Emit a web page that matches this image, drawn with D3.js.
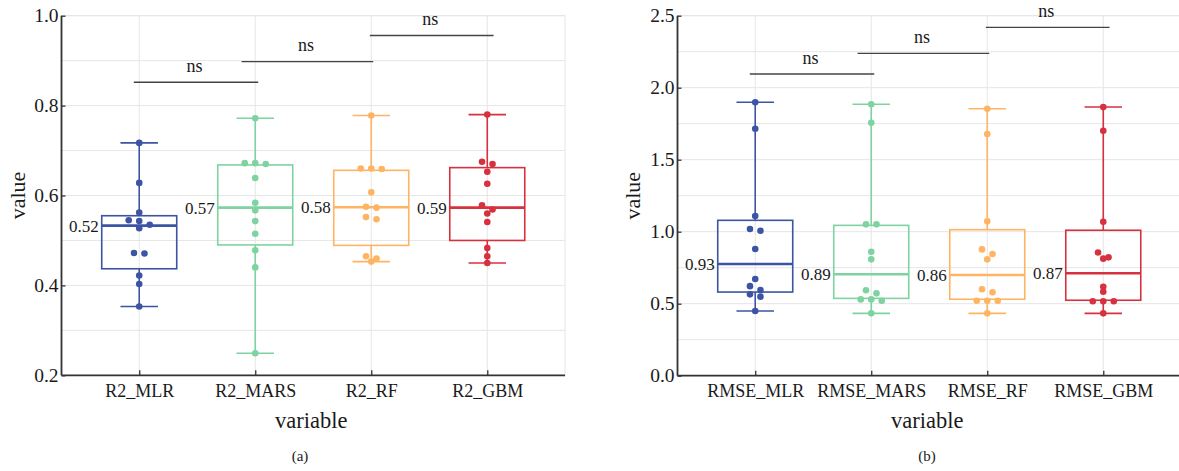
<!DOCTYPE html>
<html><head><meta charset="utf-8">
<script src="https://cdn.jsdelivr.net/npm/d3@7"></script>
<style>body{margin:0;background:#fff;}</style>
</head><body><svg id="c" width="1179" height="471"></svg>
<script>
// ---------- DATA ----------
const r2Categories = ["R2_MLR", "R2_MARS", "R2_RF", "R2_GBM"];
const rmseCategories = ["RMSE_MLR", "RMSE_MARS", "RMSE_RF", "RMSE_GBM"];

const r2MLR  = [0.717, 0.628, 0.562, 0.545, 0.543, 0.535, 0.527, 0.472, 0.471, 0.422, 0.403, 0.353];
const r2MARS = [0.772, 0.672, 0.672, 0.670, 0.639, 0.584, 0.567, 0.543, 0.515, 0.478, 0.440, 0.249];
const r2RF   = [0.778, 0.660, 0.660, 0.659, 0.607, 0.575, 0.573, 0.552, 0.547, 0.465, 0.460, 0.453];
const r2GBM  = [0.780, 0.675, 0.670, 0.653, 0.626, 0.578, 0.569, 0.560, 0.541, 0.483, 0.465, 0.450];

const rmseMLR  = [1.899, 1.715, 1.109, 1.019, 1.007, 0.880, 0.672, 0.622, 0.595, 0.565, 0.549, 0.449];
const rmseMARS = [1.885, 1.757, 1.051, 1.051, 0.861, 0.808, 0.593, 0.572, 0.530, 0.530, 0.521, 0.433];
const rmseRF   = [1.854, 1.678, 1.072, 0.877, 0.845, 0.808, 0.600, 0.579, 0.521, 0.521, 0.521, 0.433];
const rmseGBM  = [1.866, 1.701, 1.069, 0.856, 0.822, 0.813, 0.618, 0.583, 0.517, 0.517, 0.517, 0.433];

// box statistics
const r2Q1      = [0.437, 0.490, 0.489, 0.500];
const r2Median  = [0.533, 0.573, 0.574, 0.573];
const r2Q3      = [0.555, 0.668, 0.656, 0.662];
const r2Low     = [0.353, 0.249, 0.453, 0.450];
const r2High    = [0.717, 0.772, 0.778, 0.780];
const r2Means   = [0.52, 0.57, 0.58, 0.59];

const rmseQ1     = [0.581, 0.537, 0.531, 0.524];
const rmseMedian = [0.776, 0.704, 0.699, 0.711];
const rmseQ3     = [1.079, 1.044, 1.014, 1.010];
const rmseLow    = [0.449, 0.433, 0.433, 0.433];
const rmseHigh   = [1.899, 1.885, 1.854, 1.866];
const rmseMeans  = [0.93, 0.89, 0.86, 0.87];

// significance comparisons
const comparePairs = [[0, 1], [1, 2], [2, 3]];
const compareLabels = ["ns", "ns", "ns"];
const r2BracketY   = [0.852, 0.898, 0.956];
const rmseBracketY = [2.095, 2.239, 2.419];

// axis ticks
const r2Ticks = [0.2, 0.4, 0.6, 0.8, 1.0];
const r2Grid = [0.3, 0.4, 0.5, 0.6, 0.7, 0.8, 0.9, 1.0];
const rmseTicks = [0.0, 0.5, 1.0, 1.5, 2.0, 2.5];
const rmseGrid = [0.25, 0.5, 0.75, 1.0, 1.25, 1.5, 1.75, 2.0, 2.25, 2.5];

// ---------- STYLE ----------
const FONT = "Liberation Serif";
const colors = ["#3d54a5", "#7ed3a1", "#ffb463", "#d7313f"];
const bracketNudge = [[-5.4, 3], [-13.7, 2], [-1.4, 6.3]];

const svg = d3.select("#c").attr("font-family", FONT);

function drawPanel(cfg) {
  const g = svg.append("g").attr("font-family", FONT);
  const y = d3.scaleLinear().domain(cfg.domain).range([cfg.bottom, cfg.top]);
  const x = d3.scalePoint().domain(cfg.cats).range([cfg.left, cfg.right]).padding(0.67);
  const boxW = 75, capW = 37.5;

  g.append("rect").attr("x", cfg.left).attr("y", cfg.top)
    .attr("width", cfg.right - cfg.left).attr("height", cfg.bottom - cfg.top)
    .attr("fill", "none").attr("stroke", "#e6e6e6").attr("stroke-width", 1);

  g.append("g").selectAll("line").data(cfg.grid).join("line")
    .attr("x1", cfg.left).attr("x2", cfg.right)
    .attr("y1", d => y(d)).attr("y2", d => y(d))
    .attr("stroke", "#e6e6e6").attr("stroke-width", 1);
  g.append("g").selectAll("line").data(cfg.cats).join("line")
    .attr("x1", d => x(d)).attr("x2", d => x(d))
    .attr("y1", cfg.top).attr("y2", cfg.bottom)
    .attr("stroke", "#e6e6e6").attr("stroke-width", 1);

  const yAxis = d3.axisLeft(y).tickValues(cfg.ticks).tickFormat(d3.format(".1f")).tickSize(-4).tickPadding(6);
  const ya = g.append("g").attr("transform", `translate(${cfg.left},0)`).call(yAxis);
  const xAxis = d3.axisBottom(x).tickSize(-5).tickPadding(9);
  const xa = g.append("g").attr("transform", `translate(0,${cfg.bottom})`).call(xAxis);
  [ya, xa].forEach(a => {
    a.attr("font-family", FONT);
    a.select(".domain").attr("stroke", "#333").attr("stroke-width", 1.8);
    a.selectAll(".tick line").attr("stroke", "#333").attr("stroke-width", 1.3);
    a.selectAll(".tick text").attr("fill", "#1a1a1a").attr("font-family", FONT);
  });
  ya.select(".domain").attr("d", `M0,${cfg.bottom}V${cfg.top}`);
  xa.select(".domain").attr("d", `M${cfg.left},0H${cfg.right}`);
  ya.selectAll(".tick text").attr("font-size", 19.5).attr("x", -3);
  xa.selectAll(".tick text").attr("font-size", 18).attr("dy", "0.71em");

  cfg.cats.forEach((c, i) => {
    const cx = x(c), col = colors[i];
    const bg = g.append("g");
    bg.append("line").attr("x1", cx).attr("x2", cx).attr("y1", y(cfg.q3[i])).attr("y2", y(cfg.high[i]))
      .attr("stroke", col).attr("stroke-width", 1.6);
    bg.append("line").attr("x1", cx).attr("x2", cx).attr("y1", y(cfg.q1[i])).attr("y2", y(cfg.low[i]))
      .attr("stroke", col).attr("stroke-width", 1.6);
    bg.append("line").attr("x1", cx - capW / 2).attr("x2", cx + capW / 2).attr("y1", y(cfg.high[i])).attr("y2", y(cfg.high[i]))
      .attr("stroke", col).attr("stroke-width", 1.6);
    bg.append("line").attr("x1", cx - capW / 2).attr("x2", cx + capW / 2).attr("y1", y(cfg.low[i])).attr("y2", y(cfg.low[i]))
      .attr("stroke", col).attr("stroke-width", 1.6);
    bg.append("rect").attr("x", cx - boxW / 2).attr("width", boxW)
      .attr("y", y(cfg.q3[i])).attr("height", y(cfg.q1[i]) - y(cfg.q3[i]))
      .attr("fill", "none").attr("stroke", col).attr("stroke-width", 1.6);
    bg.append("line").attr("x1", cx - boxW / 2).attr("x2", cx + boxW / 2)
      .attr("y1", y(cfg.median[i])).attr("y2", y(cfg.median[i]))
      .attr("stroke", col).attr("stroke-width", 2.6);
    g.append("text").attr("x", cx - boxW / 2 - 3).attr("y", y(cfg.median[i]))
      .attr("dy", "0.35em").attr("text-anchor", "end").attr("font-size", 17).attr("fill", "#1a1a1a")
      .text(d3.format(".2f")(cfg.means[i]));

    const pts = cfg.values[i].map(v => ({ v, py: y(v) })).sort((a, b) => a.py - b.py);
    const rows = []; let cur = null;
    pts.forEach(p => {
      if (cur && p.py - cur[0].py < 5) cur.push(p); else { cur = [p]; rows.push(cur); }
    });
    rows.forEach(r => r.forEach((p, k) => p.dx = (k - (r.length - 1) / 2) * 10.5));
    g.append("g").selectAll("circle").data(pts).join("circle")
      .attr("cx", d => cx + d.dx).attr("cy", d => d.py).attr("r", 3.3)
      .attr("fill", col);
  });

  comparePairs.forEach((pr, k) => {
    const x1 = x(cfg.cats[pr[0]]) + bracketNudge[k][0];
    const x2 = x(cfg.cats[pr[1]]) + bracketNudge[k][1];
    const yy = y(cfg.bracketY[k]);
    g.append("line").attr("x1", x1).attr("x2", x2).attr("y1", yy).attr("y2", yy)
      .attr("stroke", "#444").attr("stroke-width", 1.3);
    g.append("text").attr("x", (x1 + x2) / 2 - 1.5).attr("y", yy - 10.5)
      .attr("text-anchor", "middle").attr("font-size", 18).attr("fill", "#1a1a1a").text(compareLabels[k]);
  });

  const midX = (x(cfg.cats[0]) + x(cfg.cats[cfg.cats.length - 1])) / 2;
  g.append("text").attr("x", midX - 2).attr("y", 428).attr("text-anchor", "middle")
    .attr("font-size", 22.5).attr("fill", "#1a1a1a").text("variable");
  g.append("text").attr("transform", `translate(${cfg.titleX},${(cfg.top + cfg.bottom) / 2}) rotate(-90)`)
    .attr("text-anchor", "middle").attr("font-size", 22).attr("fill", "#1a1a1a").text("value");
  g.append("text").attr("x", cfg.capX).attr("y", 461).attr("text-anchor", "middle")
    .attr("font-size", 15).attr("fill", "#1a1a1a").text(cfg.caption);
}

drawPanel({
  left: 61.5, right: 565, top: 15.7, bottom: 375.3,
  domain: [0.2, 1.0], ticks: r2Ticks, grid: r2Grid, cats: r2Categories,
  values: [r2MLR, r2MARS, r2RF, r2GBM],
  q1: r2Q1, median: r2Median, q3: r2Q3, low: r2Low, high: r2High, means: r2Means,
  bracketY: r2BracketY, titleX: 24.5, capX: 300, caption: "(a)"
});
drawPanel({
  left: 677.5, right: 1181, top: 15.7, bottom: 375.7,
  domain: [0, 2.5], ticks: rmseTicks, grid: rmseGrid, cats: rmseCategories,
  values: [rmseMLR, rmseMARS, rmseRF, rmseGBM],
  q1: rmseQ1, median: rmseMedian, q3: rmseQ3, low: rmseLow, high: rmseHigh, means: rmseMeans,
  bracketY: rmseBracketY, titleX: 640, capX: 927, caption: "(b)"
});
</script>
</body></html>
